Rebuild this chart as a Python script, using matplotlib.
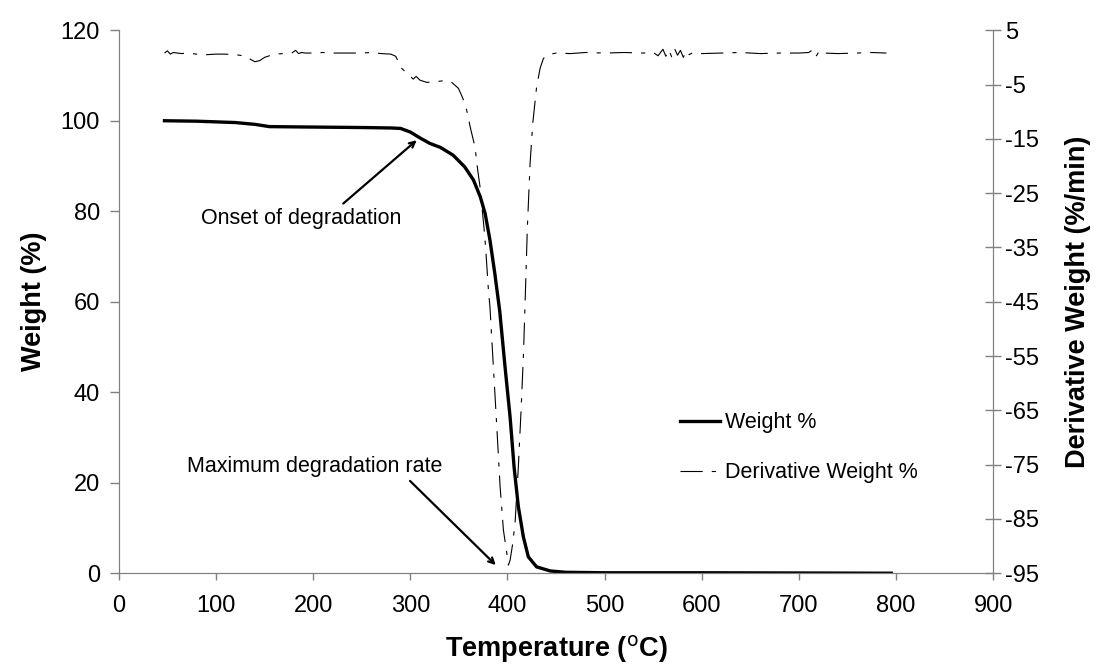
import matplotlib.pyplot as plt
import numpy as np

plt.rcParams['font.family'] = ['Liberation Sans', 'DejaVu Sans']
plt.rcParams['lines.scale_dashes'] = False
plt.rcParams['axes.unicode_minus'] = False

# Weight curve (%)
temp_w = [47, 80, 120, 140, 155, 200, 250, 280, 290, 300, 310, 320, 331, 344, 356, 365,
          372, 377, 382, 387, 392, 397.5, 402.7, 406.8, 411.2, 416.4, 421.5, 430, 444, 460,
          500, 600, 700, 795]
weight = [100, 99.9, 99.6, 99.2, 98.7, 98.6, 98.5, 98.4, 98.3, 97.5, 96.2, 95.0, 94.1, 92.4,
          89.8, 86.9, 83.2, 79.5, 73.6, 66.2, 58, 45.6, 34.5, 23.5, 14.7, 8.0, 3.6, 1.4, 0.5,
          0.2, 0.1, 0.1, 0.05, 0.0]

# Derivative weight curve (%/min)
temp_d = [47, 50, 53, 56, 60, 65, 70, 80, 90, 100, 110, 120, 128, 135, 140, 145, 150, 160,
          170, 178, 182, 185, 188, 192, 200, 210, 220, 230, 240, 250, 260, 270, 280, 285,
          291, 297, 303, 306, 310, 317, 325, 334, 342, 349.5, 354, 358, 362, 366.6, 369.4,
          371.8, 375.9, 377.6, 380.4, 382, 385.5, 389, 392.4, 395.8, 399.3, 401, 402.7, 405,
          407.8, 411.2, 414, 416.4, 418, 420.5, 423.3, 426, 430, 433.6, 437, 442, 450, 465,
          480, 500, 520, 540, 550, 555, 560, 563, 566, 569, 572, 575, 578, 581, 584, 587,
          590, 595, 600, 620, 640, 660, 680, 700, 710, 715, 718, 721, 725, 740, 760, 775, 790]
deriv = [0.8, 1.2, 0.6, 0.9, 0.8, 0.7, 0.8, 0.6, 0.5, 0.6, 0.6, 0.5, 0.3, -0.3, -0.8, -0.6,
         0.0, 0.6, 0.7, 0.8, 1.3, 0.7, 0.9, 0.8, 0.8, 0.9, 0.8, 0.8, 0.8, 0.8, 0.9, 0.7, 0.6,
         0.2, -2.0, -3.0, -4.0, -3.5, -4.2, -4.6, -4.5, -4.3, -4.5, -5.7, -7.5, -9.7, -13.1,
         -16.5, -20.8, -23.9, -31.5, -35.2, -42.9, -46, -57, -68, -79, -87, -91.3, -93.5,
         -92.6, -90, -85.8, -75.4, -65, -55, -46, -31.2, -19.5, -12.2, -5.4, -2.0, -0.2, 0.5,
         0.8, 0.7, 0.9, 0.8, 0.9, 0.8, 0.9, 0.3, 1.5, 0.2, 1.4, 0.1, 1.6, 0.4, 1.3, 0.0,
         1.2, 0.5, 0.8, 0.9, 0.7, 0.8, 0.9, 0.7, 0.8, 0.8, 0.9, 1.5, 0.3, 1.2, 0.8, 0.7, 0.8,
         0.9, 0.8]

fig = plt.figure(figsize=(11, 6.72), dpi=100)
ax = fig.add_axes([0.108, 0.147, 0.795, 0.808])
ax2 = ax.twinx()

l1, = ax.plot(temp_w, weight, color='black', lw=2.4, label='Weight %')
l2, = ax2.plot(temp_d, deriv, color='black', lw=0.8, linestyle=(0, (16, 6.5, 3, 6.5)),
               label='Derivative Weight %')

ax.set_xlim(0, 900)
ax.set_ylim(0, 120)
ax2.set_ylim(-95, 5)
ax.set_xticks(np.arange(0, 901, 100))
ax.set_yticks(np.arange(0, 121, 20))
ax2.set_yticks(np.arange(-95, 6, 10))

for a in (ax, ax2):
    for s in a.spines.values():
        s.set_color('#808080')
    a.spines['top'].set_visible(False)
    a.tick_params(labelsize=17, color='#808080', width=1)
ax.tick_params(axis='x', direction='out', length=5, pad=11)
ax.tick_params(axis='y', direction='out', length=6.5, pad=7)
ax2.tick_params(axis='y', direction='inout', length=11.5, pad=3)

ax.set_xlabel('Temperature ($^{\\rm o}$C)', fontsize=19.5, fontweight='bold', labelpad=11)
ax.set_ylabel('Weight (%)', fontsize=19.5, fontweight='bold', labelpad=10)
ax2.set_ylabel('Derivative Weight (%/min)', fontsize=19.5, fontweight='bold', labelpad=18)

arrow = dict(arrowstyle='->', color='black', lw=1.6, shrinkA=0, shrinkB=0)
ax.text(188, 78.5, 'Onset of degradation', fontsize=15.5, ha='center', va='center')
ax.annotate('', xy=(306.6, 95.7), xytext=(231, 81.7), arrowprops=arrow)
ax.text(202, 23.6, 'Maximum degradation rate', fontsize=15.5, ha='center', va='center')
ax.annotate('', xy=(388, 1.8), xytext=(299.7, 20.4), arrowprops=arrow)

ax.legend(handles=[l1, l2], loc='center left', bbox_to_anchor=(0.642, 0.231),
          frameon=False, fontsize=15.5, handlelength=1.86, labelspacing=1.33,
          handletextpad=0.23, borderaxespad=0, borderpad=0)

fig.savefig('out.png', dpi=100)
